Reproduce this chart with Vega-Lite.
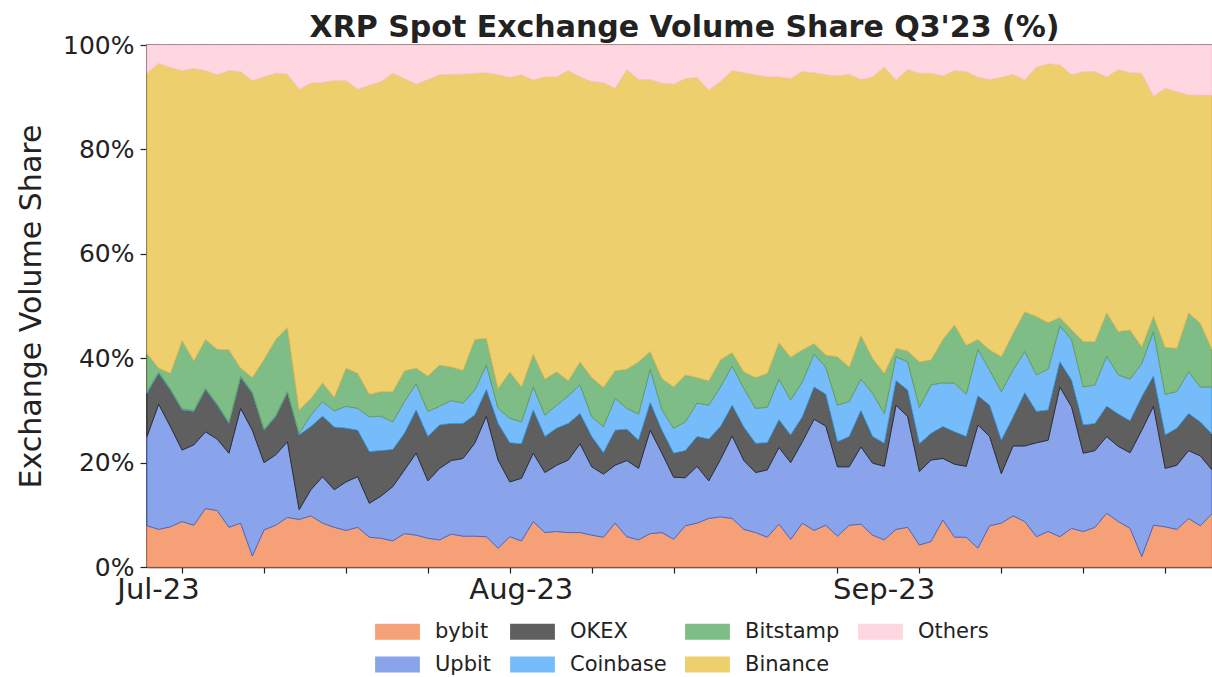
{
"$schema":"https://vega.github.io/schema/vega-lite/v6.json",
"width":1065,"height":522,
"autosize":{"type":"none"},
"padding":{"left":147,"top":45,"right":0,"bottom":110},
"background":"white",
"config":{"font":"DejaVu Sans","view":{"stroke":"#222","strokeWidth":1.5}},
"title":{"text":"XRP Spot Exchange Volume Share Q3'23 (%)","fontSize":30,"fontWeight":"bold","font":"DejaVu Sans","color":"#222","anchor":"middle","baseline":"alphabetic","offset":7,"dx":5,"dy":41},
"data":{"values":[
{"d":"2023-07-01","s":"bybit","v":7.9},{"d":"2023-07-01","s":"Upbit","v":17.1},{"d":"2023-07-01","s":"OKEX","v":8.3},{"d":"2023-07-01","s":"Coinbase","v":0.3},{"d":"2023-07-01","s":"Bitstamp","v":7.3},{"d":"2023-07-01","s":"Binance","v":53.7},{"d":"2023-07-01","s":"Others","v":5.4},
{"d":"2023-07-02","s":"bybit","v":7.2},{"d":"2023-07-02","s":"Upbit","v":24.0},{"d":"2023-07-02","s":"OKEX","v":5.9},{"d":"2023-07-02","s":"Coinbase","v":0.2},{"d":"2023-07-02","s":"Bitstamp","v":0.8},{"d":"2023-07-02","s":"Binance","v":58.4},{"d":"2023-07-02","s":"Others","v":3.5},
{"d":"2023-07-03","s":"bybit","v":7.7},{"d":"2023-07-03","s":"Upbit","v":19.2},{"d":"2023-07-03","s":"OKEX","v":7.0},{"d":"2023-07-03","s":"Coinbase","v":0.2},{"d":"2023-07-03","s":"Bitstamp","v":3.0},{"d":"2023-07-03","s":"Binance","v":58.6},{"d":"2023-07-03","s":"Others","v":4.3},
{"d":"2023-07-04","s":"bybit","v":8.7},{"d":"2023-07-04","s":"Upbit","v":13.7},{"d":"2023-07-04","s":"OKEX","v":7.7},{"d":"2023-07-04","s":"Coinbase","v":0.2},{"d":"2023-07-04","s":"Bitstamp","v":13.1},{"d":"2023-07-04","s":"Binance","v":51.7},{"d":"2023-07-04","s":"Others","v":4.9},
{"d":"2023-07-05","s":"bybit","v":8.0},{"d":"2023-07-05","s":"Upbit","v":15.4},{"d":"2023-07-05","s":"OKEX","v":6.4},{"d":"2023-07-05","s":"Coinbase","v":0.2},{"d":"2023-07-05","s":"Bitstamp","v":9.5},{"d":"2023-07-05","s":"Binance","v":56.0},{"d":"2023-07-05","s":"Others","v":4.5},
{"d":"2023-07-06","s":"bybit","v":11.2},{"d":"2023-07-06","s":"Upbit","v":14.7},{"d":"2023-07-06","s":"OKEX","v":8.1},{"d":"2023-07-06","s":"Coinbase","v":0.2},{"d":"2023-07-06","s":"Bitstamp","v":9.4},{"d":"2023-07-06","s":"Binance","v":51.5},{"d":"2023-07-06","s":"Others","v":4.9},
{"d":"2023-07-07","s":"bybit","v":10.8},{"d":"2023-07-07","s":"Upbit","v":13.7},{"d":"2023-07-07","s":"OKEX","v":6.5},{"d":"2023-07-07","s":"Coinbase","v":0.2},{"d":"2023-07-07","s":"Bitstamp","v":10.5},{"d":"2023-07-07","s":"Binance","v":52.6},{"d":"2023-07-07","s":"Others","v":5.7},
{"d":"2023-07-08","s":"bybit","v":7.6},{"d":"2023-07-08","s":"Upbit","v":14.2},{"d":"2023-07-08","s":"OKEX","v":5.7},{"d":"2023-07-08","s":"Coinbase","v":0.2},{"d":"2023-07-08","s":"Bitstamp","v":13.9},{"d":"2023-07-08","s":"Binance","v":53.5},{"d":"2023-07-08","s":"Others","v":4.9},
{"d":"2023-07-09","s":"bybit","v":8.4},{"d":"2023-07-09","s":"Upbit","v":22.0},{"d":"2023-07-09","s":"OKEX","v":5.9},{"d":"2023-07-09","s":"Coinbase","v":0.2},{"d":"2023-07-09","s":"Bitstamp","v":1.6},{"d":"2023-07-09","s":"Binance","v":56.8},{"d":"2023-07-09","s":"Others","v":5.1},
{"d":"2023-07-10","s":"bybit","v":2.1},{"d":"2023-07-10","s":"Upbit","v":24.1},{"d":"2023-07-10","s":"OKEX","v":7.1},{"d":"2023-07-10","s":"Coinbase","v":0.2},{"d":"2023-07-10","s":"Bitstamp","v":2.8},{"d":"2023-07-10","s":"Binance","v":56.9},{"d":"2023-07-10","s":"Others","v":6.8},
{"d":"2023-07-11","s":"bybit","v":7.1},{"d":"2023-07-11","s":"Upbit","v":12.9},{"d":"2023-07-11","s":"OKEX","v":6.2},{"d":"2023-07-11","s":"Coinbase","v":0.2},{"d":"2023-07-11","s":"Bitstamp","v":13.4},{"d":"2023-07-11","s":"Binance","v":54.1},{"d":"2023-07-11","s":"Others","v":6.1},
{"d":"2023-07-12","s":"bybit","v":8.0},{"d":"2023-07-12","s":"Upbit","v":13.5},{"d":"2023-07-12","s":"OKEX","v":7.3},{"d":"2023-07-12","s":"Coinbase","v":0.2},{"d":"2023-07-12","s":"Bitstamp","v":14.6},{"d":"2023-07-12","s":"Binance","v":51.0},{"d":"2023-07-12","s":"Others","v":5.4},
{"d":"2023-07-13","s":"bybit","v":9.5},{"d":"2023-07-13","s":"Upbit","v":14.5},{"d":"2023-07-13","s":"OKEX","v":9.4},{"d":"2023-07-13","s":"Coinbase","v":0.2},{"d":"2023-07-13","s":"Bitstamp","v":12.3},{"d":"2023-07-13","s":"Binance","v":48.5},{"d":"2023-07-13","s":"Others","v":5.6},
{"d":"2023-07-14","s":"bybit","v":9.1},{"d":"2023-07-14","s":"Upbit","v":1.9},{"d":"2023-07-14","s":"OKEX","v":14.3},{"d":"2023-07-14","s":"Coinbase","v":0.3},{"d":"2023-07-14","s":"Bitstamp","v":4.5},{"d":"2023-07-14","s":"Binance","v":61.4},{"d":"2023-07-14","s":"Others","v":8.5},
{"d":"2023-07-15","s":"bybit","v":9.8},{"d":"2023-07-15","s":"Upbit","v":5.0},{"d":"2023-07-15","s":"OKEX","v":12.1},{"d":"2023-07-15","s":"Coinbase","v":2.2},{"d":"2023-07-15","s":"Bitstamp","v":3.2},{"d":"2023-07-15","s":"Binance","v":60.4},{"d":"2023-07-15","s":"Others","v":7.3},
{"d":"2023-07-16","s":"bybit","v":8.4},{"d":"2023-07-16","s":"Upbit","v":8.9},{"d":"2023-07-16","s":"OKEX","v":11.6},{"d":"2023-07-16","s":"Coinbase","v":2.8},{"d":"2023-07-16","s":"Bitstamp","v":3.6},{"d":"2023-07-16","s":"Binance","v":57.5},{"d":"2023-07-16","s":"Others","v":7.2},
{"d":"2023-07-17","s":"bybit","v":7.6},{"d":"2023-07-17","s":"Upbit","v":7.2},{"d":"2023-07-17","s":"OKEX","v":12.0},{"d":"2023-07-17","s":"Coinbase","v":3.1},{"d":"2023-07-17","s":"Bitstamp","v":2.6},{"d":"2023-07-17","s":"Binance","v":60.7},{"d":"2023-07-17","s":"Others","v":6.8},
{"d":"2023-07-18","s":"bybit","v":7.0},{"d":"2023-07-18","s":"Upbit","v":9.3},{"d":"2023-07-18","s":"OKEX","v":10.3},{"d":"2023-07-18","s":"Coinbase","v":4.2},{"d":"2023-07-18","s":"Bitstamp","v":7.3},{"d":"2023-07-18","s":"Binance","v":55.1},{"d":"2023-07-18","s":"Others","v":6.8},
{"d":"2023-07-19","s":"bybit","v":7.6},{"d":"2023-07-19","s":"Upbit","v":9.7},{"d":"2023-07-19","s":"OKEX","v":8.9},{"d":"2023-07-19","s":"Coinbase","v":4.2},{"d":"2023-07-19","s":"Bitstamp","v":6.7},{"d":"2023-07-19","s":"Binance","v":54.4},{"d":"2023-07-19","s":"Others","v":8.5},
{"d":"2023-07-20","s":"bybit","v":5.7},{"d":"2023-07-20","s":"Upbit","v":6.5},{"d":"2023-07-20","s":"OKEX","v":9.9},{"d":"2023-07-20","s":"Coinbase","v":6.7},{"d":"2023-07-20","s":"Bitstamp","v":4.3},{"d":"2023-07-20","s":"Binance","v":59.2},{"d":"2023-07-20","s":"Others","v":7.7},
{"d":"2023-07-21","s":"bybit","v":5.5},{"d":"2023-07-21","s":"Upbit","v":8.1},{"d":"2023-07-21","s":"OKEX","v":8.7},{"d":"2023-07-21","s":"Coinbase","v":6.6},{"d":"2023-07-21","s":"Bitstamp","v":4.7},{"d":"2023-07-21","s":"Binance","v":59.4},{"d":"2023-07-21","s":"Others","v":7.0},
{"d":"2023-07-22","s":"bybit","v":5.0},{"d":"2023-07-22","s":"Upbit","v":10.4},{"d":"2023-07-22","s":"OKEX","v":7.1},{"d":"2023-07-22","s":"Coinbase","v":5.3},{"d":"2023-07-22","s":"Bitstamp","v":5.8},{"d":"2023-07-22","s":"Binance","v":61.0},{"d":"2023-07-22","s":"Others","v":5.4},
{"d":"2023-07-23","s":"bybit","v":6.4},{"d":"2023-07-23","s":"Upbit","v":12.2},{"d":"2023-07-23","s":"OKEX","v":7.0},{"d":"2023-07-23","s":"Coinbase","v":6.1},{"d":"2023-07-23","s":"Bitstamp","v":5.9},{"d":"2023-07-23","s":"Binance","v":56.0},{"d":"2023-07-23","s":"Others","v":6.4},
{"d":"2023-07-24","s":"bybit","v":6.1},{"d":"2023-07-24","s":"Upbit","v":15.7},{"d":"2023-07-24","s":"OKEX","v":8.3},{"d":"2023-07-24","s":"Coinbase","v":5.0},{"d":"2023-07-24","s":"Bitstamp","v":3.0},{"d":"2023-07-24","s":"Binance","v":54.4},{"d":"2023-07-24","s":"Others","v":7.5},
{"d":"2023-07-25","s":"bybit","v":5.5},{"d":"2023-07-25","s":"Upbit","v":11.0},{"d":"2023-07-25","s":"OKEX","v":8.5},{"d":"2023-07-25","s":"Coinbase","v":4.8},{"d":"2023-07-25","s":"Bitstamp","v":6.8},{"d":"2023-07-25","s":"Binance","v":56.8},{"d":"2023-07-25","s":"Others","v":6.6},
{"d":"2023-07-26","s":"bybit","v":5.2},{"d":"2023-07-26","s":"Upbit","v":13.7},{"d":"2023-07-26","s":"OKEX","v":8.3},{"d":"2023-07-26","s":"Coinbase","v":3.6},{"d":"2023-07-26","s":"Bitstamp","v":7.9},{"d":"2023-07-26","s":"Binance","v":55.6},{"d":"2023-07-26","s":"Others","v":5.7},
{"d":"2023-07-27","s":"bybit","v":6.3},{"d":"2023-07-27","s":"Upbit","v":14.1},{"d":"2023-07-27","s":"OKEX","v":7.1},{"d":"2023-07-27","s":"Coinbase","v":4.4},{"d":"2023-07-27","s":"Bitstamp","v":6.4},{"d":"2023-07-27","s":"Binance","v":56.1},{"d":"2023-07-27","s":"Others","v":5.6},
{"d":"2023-07-28","s":"bybit","v":5.9},{"d":"2023-07-28","s":"Upbit","v":14.9},{"d":"2023-07-28","s":"OKEX","v":6.7},{"d":"2023-07-28","s":"Coinbase","v":3.9},{"d":"2023-07-28","s":"Bitstamp","v":6.3},{"d":"2023-07-28","s":"Binance","v":56.7},{"d":"2023-07-28","s":"Others","v":5.6},
{"d":"2023-07-29","s":"bybit","v":5.9},{"d":"2023-07-29","s":"Upbit","v":17.8},{"d":"2023-07-29","s":"OKEX","v":5.4},{"d":"2023-07-29","s":"Coinbase","v":4.8},{"d":"2023-07-29","s":"Bitstamp","v":9.7},{"d":"2023-07-29","s":"Binance","v":51.0},{"d":"2023-07-29","s":"Others","v":5.4},
{"d":"2023-07-30","s":"bybit","v":5.8},{"d":"2023-07-30","s":"Upbit","v":23.1},{"d":"2023-07-30","s":"OKEX","v":5.1},{"d":"2023-07-30","s":"Coinbase","v":4.7},{"d":"2023-07-30","s":"Bitstamp","v":5.1},{"d":"2023-07-30","s":"Binance","v":50.9},{"d":"2023-07-30","s":"Others","v":5.3},
{"d":"2023-07-31","s":"bybit","v":3.6},{"d":"2023-07-31","s":"Upbit","v":16.9},{"d":"2023-07-31","s":"OKEX","v":7.0},{"d":"2023-07-31","s":"Coinbase","v":2.9},{"d":"2023-07-31","s":"Bitstamp","v":3.8},{"d":"2023-07-31","s":"Binance","v":60.1},{"d":"2023-07-31","s":"Others","v":5.7},
{"d":"2023-08-01","s":"bybit","v":5.8},{"d":"2023-08-01","s":"Upbit","v":10.5},{"d":"2023-08-01","s":"OKEX","v":7.5},{"d":"2023-08-01","s":"Coinbase","v":4.7},{"d":"2023-08-01","s":"Bitstamp","v":8.9},{"d":"2023-08-01","s":"Binance","v":56.4},{"d":"2023-08-01","s":"Others","v":6.2},
{"d":"2023-08-02","s":"bybit","v":5.0},{"d":"2023-08-02","s":"Upbit","v":12.0},{"d":"2023-08-02","s":"OKEX","v":6.6},{"d":"2023-08-02","s":"Coinbase","v":4.2},{"d":"2023-08-02","s":"Bitstamp","v":6.7},{"d":"2023-08-02","s":"Binance","v":59.8},{"d":"2023-08-02","s":"Others","v":5.7},
{"d":"2023-08-03","s":"bybit","v":8.7},{"d":"2023-08-03","s":"Upbit","v":13.1},{"d":"2023-08-03","s":"OKEX","v":8.3},{"d":"2023-08-03","s":"Coinbase","v":4.4},{"d":"2023-08-03","s":"Bitstamp","v":6.3},{"d":"2023-08-03","s":"Binance","v":52.5},{"d":"2023-08-03","s":"Others","v":6.7},
{"d":"2023-08-04","s":"bybit","v":6.6},{"d":"2023-08-04","s":"Upbit","v":11.5},{"d":"2023-08-04","s":"OKEX","v":6.9},{"d":"2023-08-04","s":"Coinbase","v":4.1},{"d":"2023-08-04","s":"Bitstamp","v":6.9},{"d":"2023-08-04","s":"Binance","v":57.9},{"d":"2023-08-04","s":"Others","v":6.1},
{"d":"2023-08-05","s":"bybit","v":6.8},{"d":"2023-08-05","s":"Upbit","v":12.7},{"d":"2023-08-05","s":"OKEX","v":7.1},{"d":"2023-08-05","s":"Coinbase","v":4.4},{"d":"2023-08-05","s":"Bitstamp","v":6.4},{"d":"2023-08-05","s":"Binance","v":56.5},{"d":"2023-08-05","s":"Others","v":6.1},
{"d":"2023-08-06","s":"bybit","v":6.6},{"d":"2023-08-06","s":"Upbit","v":13.9},{"d":"2023-08-06","s":"OKEX","v":7.0},{"d":"2023-08-06","s":"Coinbase","v":5.3},{"d":"2023-08-06","s":"Bitstamp","v":2.9},{"d":"2023-08-06","s":"Binance","v":59.4},{"d":"2023-08-06","s":"Others","v":4.9},
{"d":"2023-08-07","s":"bybit","v":6.6},{"d":"2023-08-07","s":"Upbit","v":17.0},{"d":"2023-08-07","s":"OKEX","v":5.8},{"d":"2023-08-07","s":"Coinbase","v":5.5},{"d":"2023-08-07","s":"Bitstamp","v":4.4},{"d":"2023-08-07","s":"Binance","v":54.6},{"d":"2023-08-07","s":"Others","v":6.1},
{"d":"2023-08-08","s":"bybit","v":6.1},{"d":"2023-08-08","s":"Upbit","v":13.1},{"d":"2023-08-08","s":"OKEX","v":5.8},{"d":"2023-08-08","s":"Coinbase","v":3.8},{"d":"2023-08-08","s":"Bitstamp","v":7.5},{"d":"2023-08-08","s":"Binance","v":56.7},{"d":"2023-08-08","s":"Others","v":7.0},
{"d":"2023-08-09","s":"bybit","v":5.7},{"d":"2023-08-09","s":"Upbit","v":12.1},{"d":"2023-08-09","s":"OKEX","v":4.1},{"d":"2023-08-09","s":"Coinbase","v":5.0},{"d":"2023-08-09","s":"Bitstamp","v":7.5},{"d":"2023-08-09","s":"Binance","v":58.4},{"d":"2023-08-09","s":"Others","v":7.2},
{"d":"2023-08-10","s":"bybit","v":8.4},{"d":"2023-08-10","s":"Upbit","v":11.1},{"d":"2023-08-10","s":"OKEX","v":6.7},{"d":"2023-08-10","s":"Coinbase","v":6.1},{"d":"2023-08-10","s":"Bitstamp","v":5.3},{"d":"2023-08-10","s":"Binance","v":54.1},{"d":"2023-08-10","s":"Others","v":8.3},
{"d":"2023-08-11","s":"bybit","v":5.8},{"d":"2023-08-11","s":"Upbit","v":14.6},{"d":"2023-08-11","s":"OKEX","v":6.0},{"d":"2023-08-11","s":"Coinbase","v":4.0},{"d":"2023-08-11","s":"Bitstamp","v":7.5},{"d":"2023-08-11","s":"Binance","v":57.4},{"d":"2023-08-11","s":"Others","v":4.7},
{"d":"2023-08-12","s":"bybit","v":5.2},{"d":"2023-08-12","s":"Upbit","v":13.7},{"d":"2023-08-12","s":"OKEX","v":5.4},{"d":"2023-08-12","s":"Coinbase","v":5.0},{"d":"2023-08-12","s":"Bitstamp","v":10.0},{"d":"2023-08-12","s":"Binance","v":54.1},{"d":"2023-08-12","s":"Others","v":6.6},
{"d":"2023-08-13","s":"bybit","v":6.4},{"d":"2023-08-13","s":"Upbit","v":19.8},{"d":"2023-08-13","s":"OKEX","v":5.3},{"d":"2023-08-13","s":"Coinbase","v":6.4},{"d":"2023-08-13","s":"Bitstamp","v":3.4},{"d":"2023-08-13","s":"Binance","v":52.1},{"d":"2023-08-13","s":"Others","v":6.6},
{"d":"2023-08-14","s":"bybit","v":6.6},{"d":"2023-08-14","s":"Upbit","v":15.2},{"d":"2023-08-14","s":"OKEX","v":4.4},{"d":"2023-08-14","s":"Coinbase","v":3.9},{"d":"2023-08-14","s":"Bitstamp","v":6.0},{"d":"2023-08-14","s":"Binance","v":56.6},{"d":"2023-08-14","s":"Others","v":7.3},
{"d":"2023-08-15","s":"bybit","v":5.3},{"d":"2023-08-15","s":"Upbit","v":11.9},{"d":"2023-08-15","s":"OKEX","v":4.6},{"d":"2023-08-15","s":"Coinbase","v":4.8},{"d":"2023-08-15","s":"Bitstamp","v":7.9},{"d":"2023-08-15","s":"Binance","v":58.0},{"d":"2023-08-15","s":"Others","v":7.5},
{"d":"2023-08-16","s":"bybit","v":7.9},{"d":"2023-08-16","s":"Upbit","v":9.2},{"d":"2023-08-16","s":"OKEX","v":5.2},{"d":"2023-08-16","s":"Coinbase","v":5.5},{"d":"2023-08-16","s":"Bitstamp","v":9.0},{"d":"2023-08-16","s":"Binance","v":56.8},{"d":"2023-08-16","s":"Others","v":6.4},
{"d":"2023-08-17","s":"bybit","v":8.4},{"d":"2023-08-17","s":"Upbit","v":10.9},{"d":"2023-08-17","s":"OKEX","v":5.7},{"d":"2023-08-17","s":"Coinbase","v":6.4},{"d":"2023-08-17","s":"Bitstamp","v":4.9},{"d":"2023-08-17","s":"Binance","v":57.5},{"d":"2023-08-17","s":"Others","v":6.2},
{"d":"2023-08-18","s":"bybit","v":9.3},{"d":"2023-08-18","s":"Upbit","v":7.2},{"d":"2023-08-18","s":"OKEX","v":8.0},{"d":"2023-08-18","s":"Coinbase","v":6.5},{"d":"2023-08-18","s":"Bitstamp","v":4.7},{"d":"2023-08-18","s":"Binance","v":55.7},{"d":"2023-08-18","s":"Others","v":8.6},
{"d":"2023-08-19","s":"bybit","v":9.6},{"d":"2023-08-19","s":"Upbit","v":11.0},{"d":"2023-08-19","s":"OKEX","v":6.3},{"d":"2023-08-19","s":"Coinbase","v":7.6},{"d":"2023-08-19","s":"Bitstamp","v":5.2},{"d":"2023-08-19","s":"Binance","v":53.3},{"d":"2023-08-19","s":"Others","v":7.0},
{"d":"2023-08-20","s":"bybit","v":9.3},{"d":"2023-08-20","s":"Upbit","v":15.8},{"d":"2023-08-20","s":"OKEX","v":5.9},{"d":"2023-08-20","s":"Coinbase","v":7.5},{"d":"2023-08-20","s":"Bitstamp","v":2.6},{"d":"2023-08-20","s":"Binance","v":54.0},{"d":"2023-08-20","s":"Others","v":4.9},
{"d":"2023-08-21","s":"bybit","v":7.2},{"d":"2023-08-21","s":"Upbit","v":13.2},{"d":"2023-08-21","s":"OKEX","v":6.4},{"d":"2023-08-21","s":"Coinbase","v":7.4},{"d":"2023-08-21","s":"Bitstamp","v":3.2},{"d":"2023-08-21","s":"Binance","v":57.3},{"d":"2023-08-21","s":"Others","v":5.3},
{"d":"2023-08-22","s":"bybit","v":6.6},{"d":"2023-08-22","s":"Upbit","v":11.5},{"d":"2023-08-22","s":"OKEX","v":5.6},{"d":"2023-08-22","s":"Coinbase","v":6.7},{"d":"2023-08-22","s":"Bitstamp","v":5.9},{"d":"2023-08-22","s":"Binance","v":58.0},{"d":"2023-08-22","s":"Others","v":5.7},
{"d":"2023-08-23","s":"bybit","v":5.7},{"d":"2023-08-23","s":"Upbit","v":12.9},{"d":"2023-08-23","s":"OKEX","v":5.2},{"d":"2023-08-23","s":"Coinbase","v":6.8},{"d":"2023-08-23","s":"Bitstamp","v":6.5},{"d":"2023-08-23","s":"Binance","v":56.8},{"d":"2023-08-23","s":"Others","v":6.1},
{"d":"2023-08-24","s":"bybit","v":8.2},{"d":"2023-08-24","s":"Upbit","v":14.7},{"d":"2023-08-24","s":"OKEX","v":5.3},{"d":"2023-08-24","s":"Coinbase","v":7.8},{"d":"2023-08-24","s":"Bitstamp","v":7.0},{"d":"2023-08-24","s":"Binance","v":50.9},{"d":"2023-08-24","s":"Others","v":6.1},
{"d":"2023-08-25","s":"bybit","v":5.3},{"d":"2023-08-25","s":"Upbit","v":14.7},{"d":"2023-08-25","s":"OKEX","v":5.3},{"d":"2023-08-25","s":"Coinbase","v":6.7},{"d":"2023-08-25","s":"Bitstamp","v":8.2},{"d":"2023-08-25","s":"Binance","v":53.4},{"d":"2023-08-25","s":"Others","v":6.4},
{"d":"2023-08-26","s":"bybit","v":8.4},{"d":"2023-08-26","s":"Upbit","v":15.6},{"d":"2023-08-26","s":"OKEX","v":4.8},{"d":"2023-08-26","s":"Coinbase","v":6.7},{"d":"2023-08-26","s":"Bitstamp","v":6.1},{"d":"2023-08-26","s":"Binance","v":53.3},{"d":"2023-08-26","s":"Others","v":5.1},
{"d":"2023-08-27","s":"bybit","v":7.0},{"d":"2023-08-27","s":"Upbit","v":21.3},{"d":"2023-08-27","s":"OKEX","v":6.2},{"d":"2023-08-27","s":"Coinbase","v":6.3},{"d":"2023-08-27","s":"Bitstamp","v":2.0},{"d":"2023-08-27","s":"Binance","v":51.9},{"d":"2023-08-27","s":"Others","v":5.3},
{"d":"2023-08-28","s":"bybit","v":8.0},{"d":"2023-08-28","s":"Upbit","v":19.0},{"d":"2023-08-28","s":"OKEX","v":6.1},{"d":"2023-08-28","s":"Coinbase","v":5.2},{"d":"2023-08-28","s":"Bitstamp","v":2.3},{"d":"2023-08-28","s":"Binance","v":53.7},{"d":"2023-08-28","s":"Others","v":5.7},
{"d":"2023-08-29","s":"bybit","v":5.9},{"d":"2023-08-29","s":"Upbit","v":13.3},{"d":"2023-08-29","s":"OKEX","v":4.8},{"d":"2023-08-29","s":"Coinbase","v":7.0},{"d":"2023-08-29","s":"Bitstamp","v":9.3},{"d":"2023-08-29","s":"Binance","v":53.8},{"d":"2023-08-29","s":"Others","v":5.9},
{"d":"2023-08-30","s":"bybit","v":8.0},{"d":"2023-08-30","s":"Upbit","v":11.2},{"d":"2023-08-30","s":"OKEX","v":5.8},{"d":"2023-08-30","s":"Coinbase","v":6.7},{"d":"2023-08-30","s":"Bitstamp","v":6.6},{"d":"2023-08-30","s":"Binance","v":56.1},{"d":"2023-08-30","s":"Others","v":5.6},
{"d":"2023-08-31","s":"bybit","v":8.2},{"d":"2023-08-31","s":"Upbit","v":14.8},{"d":"2023-08-31","s":"OKEX","v":7.0},{"d":"2023-08-31","s":"Coinbase","v":6.0},{"d":"2023-08-31","s":"Bitstamp","v":8.4},{"d":"2023-08-31","s":"Binance","v":49.0},{"d":"2023-08-31","s":"Others","v":6.6},
{"d":"2023-09-01","s":"bybit","v":6.1},{"d":"2023-09-01","s":"Upbit","v":13.8},{"d":"2023-09-01","s":"OKEX","v":5.1},{"d":"2023-09-01","s":"Coinbase","v":8.3},{"d":"2023-09-01","s":"Bitstamp","v":6.7},{"d":"2023-09-01","s":"Binance","v":53.9},{"d":"2023-09-01","s":"Others","v":6.1},
{"d":"2023-09-02","s":"bybit","v":5.2},{"d":"2023-09-02","s":"Upbit","v":14.1},{"d":"2023-09-02","s":"OKEX","v":4.4},{"d":"2023-09-02","s":"Coinbase","v":5.7},{"d":"2023-09-02","s":"Bitstamp","v":7.7},{"d":"2023-09-02","s":"Binance","v":58.7},{"d":"2023-09-02","s":"Others","v":4.2},
{"d":"2023-09-03","s":"bybit","v":7.2},{"d":"2023-09-03","s":"Upbit","v":23.8},{"d":"2023-09-03","s":"OKEX","v":4.7},{"d":"2023-09-03","s":"Coinbase","v":4.6},{"d":"2023-09-03","s":"Bitstamp","v":1.6},{"d":"2023-09-03","s":"Binance","v":51.4},{"d":"2023-09-03","s":"Others","v":6.7},
{"d":"2023-09-04","s":"bybit","v":7.6},{"d":"2023-09-04","s":"Upbit","v":21.2},{"d":"2023-09-04","s":"OKEX","v":5.1},{"d":"2023-09-04","s":"Coinbase","v":5.4},{"d":"2023-09-04","s":"Bitstamp","v":2.1},{"d":"2023-09-04","s":"Binance","v":53.9},{"d":"2023-09-04","s":"Others","v":4.7},
{"d":"2023-09-05","s":"bybit","v":4.2},{"d":"2023-09-05","s":"Upbit","v":14.1},{"d":"2023-09-05","s":"OKEX","v":5.3},{"d":"2023-09-05","s":"Coinbase","v":7.0},{"d":"2023-09-05","s":"Bitstamp","v":8.7},{"d":"2023-09-05","s":"Binance","v":55.3},{"d":"2023-09-05","s":"Others","v":5.4},
{"d":"2023-09-06","s":"bybit","v":4.9},{"d":"2023-09-06","s":"Upbit","v":15.6},{"d":"2023-09-06","s":"OKEX","v":5.1},{"d":"2023-09-06","s":"Coinbase","v":9.3},{"d":"2023-09-06","s":"Bitstamp","v":4.8},{"d":"2023-09-06","s":"Binance","v":54.9},{"d":"2023-09-06","s":"Others","v":5.4},
{"d":"2023-09-07","s":"bybit","v":9.0},{"d":"2023-09-07","s":"Upbit","v":11.8},{"d":"2023-09-07","s":"OKEX","v":6.1},{"d":"2023-09-07","s":"Coinbase","v":8.4},{"d":"2023-09-07","s":"Bitstamp","v":8.3},{"d":"2023-09-07","s":"Binance","v":50.5},{"d":"2023-09-07","s":"Others","v":5.9},
{"d":"2023-09-08","s":"bybit","v":5.7},{"d":"2023-09-08","s":"Upbit","v":14.0},{"d":"2023-09-08","s":"OKEX","v":6.2},{"d":"2023-09-08","s":"Coinbase","v":9.3},{"d":"2023-09-08","s":"Bitstamp","v":11.2},{"d":"2023-09-08","s":"Binance","v":48.7},{"d":"2023-09-08","s":"Others","v":4.9},
{"d":"2023-09-09","s":"bybit","v":5.7},{"d":"2023-09-09","s":"Upbit","v":13.6},{"d":"2023-09-09","s":"OKEX","v":5.7},{"d":"2023-09-09","s":"Coinbase","v":8.1},{"d":"2023-09-09","s":"Bitstamp","v":9.4},{"d":"2023-09-09","s":"Binance","v":52.4},{"d":"2023-09-09","s":"Others","v":5.1},
{"d":"2023-09-10","s":"bybit","v":3.6},{"d":"2023-09-10","s":"Upbit","v":23.6},{"d":"2023-09-10","s":"OKEX","v":5.6},{"d":"2023-09-10","s":"Coinbase","v":8.9},{"d":"2023-09-10","s":"Bitstamp","v":1.9},{"d":"2023-09-10","s":"Binance","v":50.2},{"d":"2023-09-10","s":"Others","v":6.2},
{"d":"2023-09-11","s":"bybit","v":7.9},{"d":"2023-09-11","s":"Upbit","v":17.1},{"d":"2023-09-11","s":"OKEX","v":6.0},{"d":"2023-09-11","s":"Coinbase","v":6.7},{"d":"2023-09-11","s":"Bitstamp","v":3.9},{"d":"2023-09-11","s":"Binance","v":51.8},{"d":"2023-09-11","s":"Others","v":6.6},
{"d":"2023-09-12","s":"bybit","v":8.4},{"d":"2023-09-12","s":"Upbit","v":9.5},{"d":"2023-09-12","s":"OKEX","v":6.4},{"d":"2023-09-12","s":"Coinbase","v":9.3},{"d":"2023-09-12","s":"Bitstamp","v":6.7},{"d":"2023-09-12","s":"Binance","v":53.5},{"d":"2023-09-12","s":"Others","v":6.2},
{"d":"2023-09-13","s":"bybit","v":9.8},{"d":"2023-09-13","s":"Upbit","v":13.4},{"d":"2023-09-13","s":"OKEX","v":5.5},{"d":"2023-09-13","s":"Coinbase","v":9.0},{"d":"2023-09-13","s":"Bitstamp","v":7.1},{"d":"2023-09-13","s":"Binance","v":49.6},{"d":"2023-09-13","s":"Others","v":5.6},
{"d":"2023-09-14","s":"bybit","v":8.7},{"d":"2023-09-14","s":"Upbit","v":14.5},{"d":"2023-09-14","s":"OKEX","v":10.2},{"d":"2023-09-14","s":"Coinbase","v":7.9},{"d":"2023-09-14","s":"Bitstamp","v":7.6},{"d":"2023-09-14","s":"Binance","v":44.4},{"d":"2023-09-14","s":"Others","v":6.7},
{"d":"2023-09-15","s":"bybit","v":5.8},{"d":"2023-09-15","s":"Upbit","v":18.0},{"d":"2023-09-15","s":"OKEX","v":6.0},{"d":"2023-09-15","s":"Coinbase","v":7.0},{"d":"2023-09-15","s":"Bitstamp","v":11.2},{"d":"2023-09-15","s":"Binance","v":47.8},{"d":"2023-09-15","s":"Others","v":4.2},
{"d":"2023-09-16","s":"bybit","v":6.8},{"d":"2023-09-16","s":"Upbit","v":17.5},{"d":"2023-09-16","s":"OKEX","v":5.8},{"d":"2023-09-16","s":"Coinbase","v":7.8},{"d":"2023-09-16","s":"Bitstamp","v":8.9},{"d":"2023-09-16","s":"Binance","v":49.6},{"d":"2023-09-16","s":"Others","v":3.6},
{"d":"2023-09-17","s":"bybit","v":5.8},{"d":"2023-09-17","s":"Upbit","v":28.7},{"d":"2023-09-17","s":"OKEX","v":4.8},{"d":"2023-09-17","s":"Coinbase","v":6.9},{"d":"2023-09-17","s":"Bitstamp","v":1.6},{"d":"2023-09-17","s":"Binance","v":48.4},{"d":"2023-09-17","s":"Others","v":3.8},
{"d":"2023-09-18","s":"bybit","v":7.4},{"d":"2023-09-18","s":"Upbit","v":23.3},{"d":"2023-09-18","s":"OKEX","v":5.1},{"d":"2023-09-18","s":"Coinbase","v":7.8},{"d":"2023-09-18","s":"Bitstamp","v":1.9},{"d":"2023-09-18","s":"Binance","v":48.8},{"d":"2023-09-18","s":"Others","v":5.7},
{"d":"2023-09-19","s":"bybit","v":6.8},{"d":"2023-09-19","s":"Upbit","v":15.0},{"d":"2023-09-19","s":"OKEX","v":5.4},{"d":"2023-09-19","s":"Coinbase","v":7.3},{"d":"2023-09-19","s":"Bitstamp","v":8.7},{"d":"2023-09-19","s":"Binance","v":51.7},{"d":"2023-09-19","s":"Others","v":5.1},
{"d":"2023-09-20","s":"bybit","v":7.6},{"d":"2023-09-20","s":"Upbit","v":14.7},{"d":"2023-09-20","s":"OKEX","v":5.2},{"d":"2023-09-20","s":"Coinbase","v":7.4},{"d":"2023-09-20","s":"Bitstamp","v":8.3},{"d":"2023-09-20","s":"Binance","v":51.7},{"d":"2023-09-20","s":"Others","v":5.1},
{"d":"2023-09-21","s":"bybit","v":10.3},{"d":"2023-09-21","s":"Upbit","v":14.7},{"d":"2023-09-21","s":"OKEX","v":5.8},{"d":"2023-09-21","s":"Coinbase","v":9.6},{"d":"2023-09-21","s":"Bitstamp","v":8.3},{"d":"2023-09-21","s":"Binance","v":45.2},{"d":"2023-09-21","s":"Others","v":6.1},
{"d":"2023-09-22","s":"bybit","v":8.7},{"d":"2023-09-22","s":"Upbit","v":14.4},{"d":"2023-09-22","s":"OKEX","v":6.2},{"d":"2023-09-22","s":"Coinbase","v":7.5},{"d":"2023-09-22","s":"Bitstamp","v":8.3},{"d":"2023-09-22","s":"Binance","v":50.2},{"d":"2023-09-22","s":"Others","v":4.7},
{"d":"2023-09-23","s":"bybit","v":7.4},{"d":"2023-09-23","s":"Upbit","v":14.5},{"d":"2023-09-23","s":"OKEX","v":6.1},{"d":"2023-09-23","s":"Coinbase","v":8.0},{"d":"2023-09-23","s":"Bitstamp","v":9.4},{"d":"2023-09-23","s":"Binance","v":49.3},{"d":"2023-09-23","s":"Others","v":5.3},
{"d":"2023-09-24","s":"bybit","v":2.0},{"d":"2023-09-24","s":"Upbit","v":24.2},{"d":"2023-09-24","s":"OKEX","v":6.4},{"d":"2023-09-24","s":"Coinbase","v":6.4},{"d":"2023-09-24","s":"Bitstamp","v":3.2},{"d":"2023-09-24","s":"Binance","v":52.4},{"d":"2023-09-24","s":"Others","v":5.4},
{"d":"2023-09-25","s":"bybit","v":8.0},{"d":"2023-09-25","s":"Upbit","v":22.8},{"d":"2023-09-25","s":"OKEX","v":5.8},{"d":"2023-09-25","s":"Coinbase","v":8.5},{"d":"2023-09-25","s":"Bitstamp","v":3.0},{"d":"2023-09-25","s":"Binance","v":42.1},{"d":"2023-09-25","s":"Others","v":9.8},
{"d":"2023-09-26","s":"bybit","v":7.7},{"d":"2023-09-26","s":"Upbit","v":11.2},{"d":"2023-09-26","s":"OKEX","v":6.4},{"d":"2023-09-26","s":"Coinbase","v":7.8},{"d":"2023-09-26","s":"Bitstamp","v":9.0},{"d":"2023-09-26","s":"Binance","v":49.6},{"d":"2023-09-26","s":"Others","v":8.3},
{"d":"2023-09-27","s":"bybit","v":7.2},{"d":"2023-09-27","s":"Upbit","v":12.3},{"d":"2023-09-27","s":"OKEX","v":7.1},{"d":"2023-09-27","s":"Coinbase","v":7.0},{"d":"2023-09-27","s":"Bitstamp","v":8.3},{"d":"2023-09-27","s":"Binance","v":49.2},{"d":"2023-09-27","s":"Others","v":8.9},
{"d":"2023-09-28","s":"bybit","v":9.3},{"d":"2023-09-28","s":"Upbit","v":13.0},{"d":"2023-09-28","s":"OKEX","v":7.1},{"d":"2023-09-28","s":"Coinbase","v":8.0},{"d":"2023-09-28","s":"Bitstamp","v":11.3},{"d":"2023-09-28","s":"Binance","v":41.7},{"d":"2023-09-28","s":"Others","v":9.6},
{"d":"2023-09-29","s":"bybit","v":7.9},{"d":"2023-09-29","s":"Upbit","v":13.4},{"d":"2023-09-29","s":"OKEX","v":6.5},{"d":"2023-09-29","s":"Coinbase","v":6.7},{"d":"2023-09-29","s":"Bitstamp","v":12.2},{"d":"2023-09-29","s":"Binance","v":43.7},{"d":"2023-09-29","s":"Others","v":9.6},
{"d":"2023-09-30","s":"bybit","v":10.2},{"d":"2023-09-30","s":"Upbit","v":8.4},{"d":"2023-09-30","s":"OKEX","v":6.9},{"d":"2023-09-30","s":"Coinbase","v":9.0},{"d":"2023-09-30","s":"Bitstamp","v":7.2},{"d":"2023-09-30","s":"Binance","v":48.7},{"d":"2023-09-30","s":"Others","v":9.6}
]},
"transform":[{"calculate":"indexof(['bybit','Upbit','OKEX','Coinbase','Bitstamp','Binance','Others'], datum.s)","as":"k"}],
"resolve":{"axis":{"x":"independent"}},
"layer":[
{"mark":{"type":"area","strokeWidth":1,"interpolate":"linear"},
 "encoding":{
  "x":{"field":"d","type":"temporal","title":null,
   "scale":{"type":"utc","domain":[{"year":2023,"month":7,"date":1,"utc":true},{"year":2023,"month":9,"date":30,"utc":true}]},
   "axis":{"orient":"bottom","values":[{"year":2023,"month":7,"date":1,"utc":true},{"year":2023,"month":8,"date":1,"utc":true},{"year":2023,"month":9,"date":1,"utc":true}],"format":"%b-%y","ticks":false,"labelFontSize":29,"labelOffset":11,"labelPadding":8,"labelColor":"#222","labelFont":"DejaVu Sans","domainColor":"#222","domainWidth":1.5,"grid":false,"labelFlush":false,"labelOverlap":false,"labelBound":false}},
  "y":{"field":"v","type":"quantitative","stack":"zero","title":"Exchange Volume Share",
   "scale":{"domain":[0,100],"nice":false},
   "axis":{"values":[0,20,40,60,80,100],"labelExpr":"datum.value + '%'","labelFontSize":25,"labelFont":"DejaVu Sans","labelColor":"#222","tickSize":7,"tickColor":"#222","tickWidth":1.2,"domainColor":"#222","domainWidth":1.5,"grid":false,"labelPadding":6,"labelFlush":false,"labelOverlap":false,"titleFontSize":30,"titleFont":"DejaVu Sans","titleFontWeight":"normal","titleColor":"#222","titleX":-116,"titleY":261,"titleAngle":-90,"titleAlign":"center","titleBaseline":"middle"}},
  "color":{"field":"s","type":"nominal",
   "scale":{"domain":["bybit","Upbit","OKEX","Coinbase","Bitstamp","Binance","Others"],"range":["#F5A077","#8AA4EB","#5F5F5F","#76BCFB","#7EBE86","#EDCF6E","#FED7E0"]},
   "legend":{"orient":"none","direction":"vertical","legendX":240,"legendY":576,"columns":4,"values":["bybit","Upbit","OKEX","Coinbase","Bitstamp","Binance","Others"],"title":null,"symbolType":"M-2.8,-1H2.8V1H-2.8Z","symbolSize":256,"symbolStrokeWidth":0,"symbolOpacity":1,"labelFontSize":21,"labelFont":"DejaVu Sans","labelColor":"#222","labelOffset":27,"columnPadding":18,"rowPadding":11,"padding":0,"labelOverlap":false}},
  "stroke":{"field":"s","type":"nominal",
   "scale":{"domain":["bybit","Upbit","OKEX","Coinbase","Bitstamp","Binance","Others"],"range":["#E98860","#4668C8","#303030","#3A9AE0","#6CA050","#E8B957","#FDC5D2"]},
   "legend":null},
  "order":{"field":"k","type":"quantitative"}
 }},
{"mark":{"type":"rule","opacity":0},
 "encoding":{
  "x":{"field":"d","type":"temporal","title":null,
   "axis":{"orient":"bottom","values":[{"year":2023,"month":7,"date":4,"utc":true},{"year":2023,"month":7,"date":11,"utc":true},{"year":2023,"month":7,"date":18,"utc":true},{"year":2023,"month":7,"date":25,"utc":true},{"year":2023,"month":8,"date":1,"utc":true},{"year":2023,"month":8,"date":8,"utc":true},{"year":2023,"month":8,"date":15,"utc":true},{"year":2023,"month":8,"date":22,"utc":true},{"year":2023,"month":8,"date":29,"utc":true},{"year":2023,"month":9,"date":5,"utc":true},{"year":2023,"month":9,"date":12,"utc":true},{"year":2023,"month":9,"date":19,"utc":true},{"year":2023,"month":9,"date":26,"utc":true}],"labels":false,"ticks":true,"tickSize":6,"tickColor":"#222","tickWidth":1.2,"domain":false,"grid":false}}
 }}
]
}
